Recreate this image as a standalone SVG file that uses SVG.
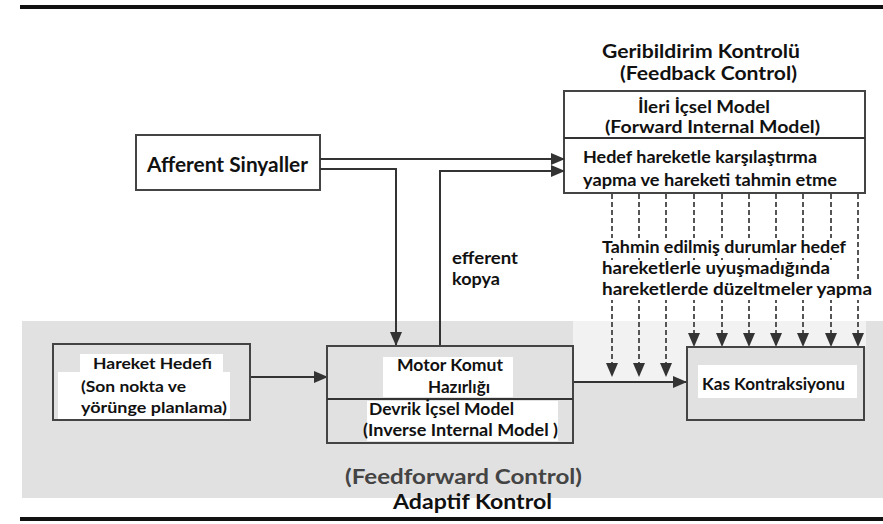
<svg xmlns="http://www.w3.org/2000/svg" width="883" height="524" viewBox="0 0 883 524">
<defs>
<style>
.t{font-family:Lato,"Open Sans","Liberation Sans",sans-serif;font-weight:bold;fill:#111}
.box{fill:#fff;stroke:#444;stroke-width:2}
.boxg{fill:none;stroke:#444;stroke-width:2}
.ln{fill:none;stroke:#333;stroke-width:2}
.dl{fill:none;stroke:#555;stroke-width:2;stroke-dasharray:5 3}
.bg{fill:#fff}
</style>
<marker id="ah" markerUnits="userSpaceOnUse" markerWidth="14" markerHeight="12" refX="13" refY="6" orient="auto">
<path d="M0,0 L14,6 L0,12 Z" fill="#333"/>
</marker>
</defs>
<rect x="0" y="0" width="883" height="524" fill="#fff"/>
<!-- gray band -->
<rect x="22" y="321" width="861" height="177" fill="#e1e1e1"/>
<rect x="573" y="321" width="293" height="26" fill="#f2f2f2"/>
<rect x="573" y="347" width="114" height="35" fill="#f2f2f2"/>
<!-- frame lines -->
<rect x="20" y="5" width="863" height="4" fill="#111"/>
<rect x="20" y="517" width="863" height="4" fill="#111"/>

<g id="feedback-title">
<text class="t" x="602" y="58" font-size="19" textLength="198" lengthAdjust="spacingAndGlyphs">Geribildirim Kontrolü</text>
<text class="t" x="620" y="80" font-size="19" textLength="177" lengthAdjust="spacingAndGlyphs">(Feedback Control)</text>
</g>

<g id="forward-model">
<rect class="box" x="564" y="91" width="301" height="102"/>
<line class="ln" x1="564" y1="138" x2="865" y2="138"/>
<text class="t" x="638" y="113" font-size="16.5" textLength="132" lengthAdjust="spacingAndGlyphs">İleri İçsel Model</text>
<text class="t" x="605" y="133" font-size="16.5" textLength="215" lengthAdjust="spacingAndGlyphs">(Forward Internal Model)</text>
<text class="t" x="583" y="163" font-size="17" textLength="234" lengthAdjust="spacingAndGlyphs">Hedef hareketle karşılaştırma</text>
<text class="t" x="583" y="186" font-size="17" textLength="254" lengthAdjust="spacingAndGlyphs">yapma ve hareketi tahmin etme</text>
</g>

<g id="afferent">
<rect class="box" x="136" y="135" width="184" height="55"/>
<text class="t" x="147" y="172" font-size="20" textLength="161" lengthAdjust="spacingAndGlyphs">Afferent Sinyaller</text>
</g>

<g id="connectors">
<polyline class="ln" points="320,159 564,159" marker-end="url(#ah)"/>
<polyline class="ln" points="320,169 396,169 396,345" marker-end="url(#ah)"/>
<polyline class="ln" points="440,346 440,171 564,171" marker-end="url(#ah)"/>
<polyline class="ln" points="250,377 327,377" marker-end="url(#ah)"/>
<polyline class="ln" points="573,382 686,382" marker-end="url(#ah)"/>
<line class="dl" x1="612" y1="194" x2="612" y2="376" marker-end="url(#ah)"/>
<line class="dl" x1="639" y1="194" x2="639" y2="376" marker-end="url(#ah)"/>
<line class="dl" x1="666" y1="194" x2="666" y2="376" marker-end="url(#ah)"/>
<line class="dl" x1="694" y1="194" x2="694" y2="346" marker-end="url(#ah)"/>
<line class="dl" x1="722" y1="194" x2="722" y2="346" marker-end="url(#ah)"/>
<line class="dl" x1="749" y1="194" x2="749" y2="346" marker-end="url(#ah)"/>
<line class="dl" x1="776" y1="194" x2="776" y2="346" marker-end="url(#ah)"/>
<line class="dl" x1="803" y1="194" x2="803" y2="346" marker-end="url(#ah)"/>
<line class="dl" x1="831" y1="194" x2="831" y2="346" marker-end="url(#ah)"/>
<line class="dl" x1="858" y1="194" x2="858" y2="346" marker-end="url(#ah)"/>
</g>

<g id="efferent-label">
<text class="t" x="452" y="264" font-size="17" textLength="66" lengthAdjust="spacingAndGlyphs">efferent</text>
<text class="t" x="452" y="285" font-size="17" textLength="48" lengthAdjust="spacingAndGlyphs">kopya</text>
</g>

<g id="correction-label">
<rect class="bg" x="599" y="238" width="250" height="20"/>
<rect class="bg" x="599" y="260" width="234" height="19"/>
<rect class="bg" x="599" y="281" width="276" height="19"/>
<text class="t" x="602" y="253" font-size="17" textLength="244" lengthAdjust="spacingAndGlyphs">Tahmin edilmiş durumlar hedef</text>
<text class="t" x="602" y="274" font-size="17" textLength="228" lengthAdjust="spacingAndGlyphs">hareketlerle uyuşmadığında</text>
<text class="t" x="602" y="295" font-size="17" textLength="270" lengthAdjust="spacingAndGlyphs">hareketlerde düzeltmeler yapma</text>
</g>

<g id="hareket-hedefi">
<rect class="boxg" x="53" y="344" width="197" height="76"/>
<rect class="bg" x="80" y="354" width="143" height="18"/>
<rect class="bg" x="58" y="372" width="172" height="47"/>
<text class="t" x="93" y="369" font-size="16" textLength="119" lengthAdjust="spacingAndGlyphs">Hareket Hedefi</text>
<text class="t" x="81" y="392" font-size="16" textLength="105" lengthAdjust="spacingAndGlyphs">(Son nokta ve</text>
<text class="t" x="81" y="413" font-size="16" textLength="146" lengthAdjust="spacingAndGlyphs">yörünge planlama)</text>
</g>

<g id="motor-komut">
<rect class="boxg" x="327" y="346" width="246" height="97"/>
<line class="ln" x1="327" y1="399" x2="573" y2="399"/>
<rect class="bg" x="383" y="357" width="130" height="40"/>
<rect class="bg" x="367" y="401" width="191" height="40"/>
<text class="t" x="397" y="371" font-size="17" textLength="106" lengthAdjust="spacingAndGlyphs">Motor Komut</text>
<text class="t" x="428" y="393" font-size="17" textLength="62" lengthAdjust="spacingAndGlyphs">Hazırlığı</text>
<text class="t" x="369" y="415" font-size="17" textLength="145" lengthAdjust="spacingAndGlyphs">Devrik İçsel Model</text>
<text class="t" x="363" y="436" font-size="17" textLength="195" lengthAdjust="spacingAndGlyphs">(Inverse Internal Model )</text>
</g>

<g id="kas-kontraksiyonu">
<rect class="boxg" x="687" y="347" width="177" height="73"/>
<rect class="bg" x="698" y="365" width="159" height="33"/>
<text class="t" x="702" y="390" font-size="17" textLength="143" lengthAdjust="spacingAndGlyphs">Kas Kontraksiyonu</text>
</g>

<g id="bottom-labels">
<text class="t" x="345" y="484" font-size="21" style="fill:#444" textLength="237" lengthAdjust="spacingAndGlyphs">(Feedforward Control)</text>
<text class="t" x="393" y="509" font-size="20" textLength="159" lengthAdjust="spacingAndGlyphs">Adaptif Kontrol</text>
</g>
</svg>
